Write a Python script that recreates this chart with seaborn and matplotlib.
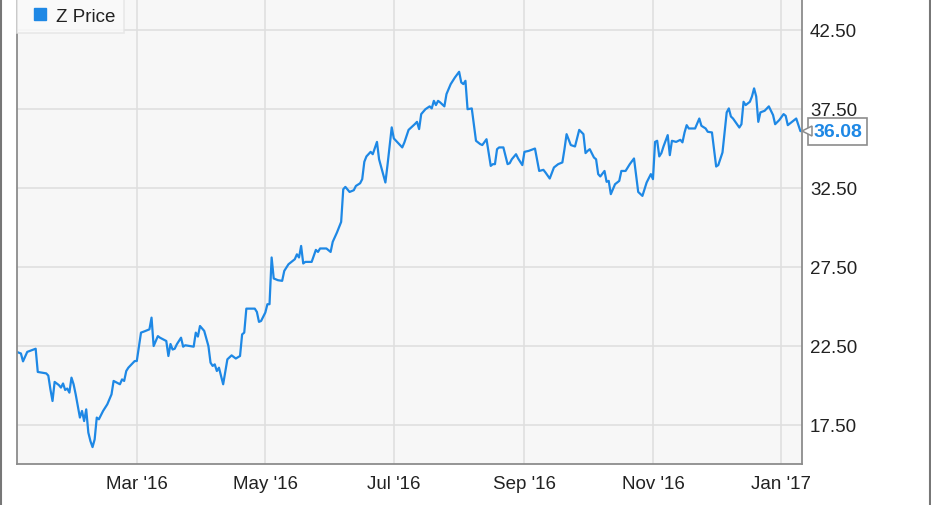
import matplotlib
matplotlib.use("Agg")
import matplotlib.pyplot as plt
import matplotlib.dates as mdates
from matplotlib.lines import Line2D
import seaborn as sns
import pandas as pd

# Z daily close (days counted from 2016-01-01)
day_offsets = [
    3, 5, 6, 8, 10, 12, 13, 17, 18, 19,
    20, 21, 23, 24, 25, 26, 27, 28, 29, 30,
    31, 33, 34, 35, 36, 37, 38, 39, 40, 41,
    42, 44, 46, 48, 49, 52, 53, 54, 55, 56,
    59, 60, 62, 64, 66, 67, 68, 70, 71, 74,
    75, 76, 77, 78, 79, 81, 82, 83, 87, 88,
    89, 90, 92, 94, 95, 96, 97, 98, 99, 100,
    101, 103, 105, 107, 109, 110, 111, 112, 116, 117,
    118, 119, 121, 122, 123, 124, 125, 127, 129, 130,
    132, 135, 136, 137, 138, 139, 140, 143, 145, 146,
    147, 150, 152, 153, 155, 157, 158, 159, 161, 163,
    164, 166, 167, 168, 169, 171, 172, 174, 175, 178,
    179, 181, 182, 186, 187, 189, 192, 193, 194, 195,
    197, 199, 200, 201, 202, 203, 204, 206, 207, 209,
    211, 213, 214, 215, 216, 217, 219, 221, 223, 224,
    226, 228, 229, 230, 231, 232, 234, 236, 237, 238,
    240, 241, 243, 244, 246, 249, 251, 253, 254, 256,
    258, 260, 262, 263, 264, 266, 268, 270, 272, 273,
    274, 275, 277, 278, 279, 280, 282, 283, 284, 285,
    287, 289, 290, 292, 294, 296, 298, 300, 302, 304,
    305, 306, 307, 308, 309, 310, 312, 313, 314, 316,
    318, 319, 320, 321, 322, 325, 327, 328, 330, 331,
    333, 334, 335, 336, 338, 340, 341, 342, 343, 346,
    347, 348, 349, 351, 352, 353, 354, 355, 356, 358,
    360, 362, 363, 365, 367, 368, 369, 371, 373, 375,
]
prices = [
    22.1, 22.0, 21.5, 22.1, 22.2, 22.3, 20.83, 20.74, 20.6, 19.73,
    18.99, 20.2, 20.0, 19.84, 20.1, 19.69, 19.78, 19.52, 20.47, 20.05,
    19.41, 17.94, 18.36, 17.72, 18.46, 16.99, 16.45, 16.07, 16.56, 17.94,
    17.83, 18.36, 18.78, 19.41, 20.26, 20.05, 20.36, 20.26, 20.89, 21.1,
    21.52, 21.52, 23.32, 23.42, 23.53, 24.27, 22.47, 23.1, 23.0, 22.79,
    21.84, 22.6, 22.25, 22.3, 22.58, 23.0, 22.43, 22.52, 22.43, 23.32,
    23.07, 23.74, 23.43, 22.47, 21.42, 21.21, 21.31, 20.89, 21.1, 20.57,
    20.05, 21.63, 21.88, 21.68, 21.84, 23.21, 23.32, 24.84, 24.84, 24.63,
    24.0, 24.06, 24.59, 25.12, 25.12, 28.08, 26.75, 26.64, 26.6, 27.23,
    27.65, 27.97, 28.28, 28.08, 28.81, 27.7, 27.8, 27.8, 28.56, 28.43,
    28.65, 28.65, 28.43, 29.07, 29.66, 30.33, 32.4, 32.55, 32.23, 32.34,
    32.61, 32.78, 33.04, 34.14, 34.48, 34.77, 34.62, 35.4, 34.3, 32.83,
    33.93, 36.32, 35.62, 35.05, 35.36, 36.16, 36.53, 36.67, 36.21, 37.16,
    37.47, 37.65, 37.52, 38.0, 37.73, 38.0, 37.9, 37.65, 38.43, 39.06,
    39.48, 39.84, 39.17, 39.06, 39.27, 37.47, 37.52, 35.47, 35.26, 35.2,
    35.57, 33.88, 33.99, 33.99, 34.94, 35.05, 35.05, 33.99, 34.05, 34.3,
    34.62, 34.35, 33.93, 34.77, 34.83, 34.98, 33.56, 33.63, 33.46, 33.08,
    33.78, 33.99, 34.1, 34.94, 35.89, 35.2, 35.11, 36.16, 35.89, 34.69,
    34.83, 34.94, 34.41, 34.3, 33.36, 33.21, 33.56, 32.87, 32.93, 32.09,
    32.72, 32.93, 33.56, 33.56, 33.99, 34.35, 32.23, 31.98, 32.83, 33.36,
    33.04, 35.4, 35.47, 34.48, 34.69, 35.11, 35.83, 34.56, 35.47, 35.4,
    35.53, 35.37, 36.0, 36.46, 36.25, 36.25, 36.88, 36.42, 36.25, 36.04,
    36.0, 34.94, 33.84, 33.93, 34.73, 37.27, 37.52, 37.01, 36.88, 36.31,
    36.52, 37.94, 37.73, 37.94, 38.28, 38.79, 38.28, 36.67, 37.27, 37.37,
    37.65, 37.1, 36.52, 36.79, 37.16, 37.05, 36.46, 36.67, 36.88, 36.08,
]

y_ticks = [17.5, 22.5, 27.5, 32.5, 37.5, 42.5]
x_ticks = ["2016-03-01", "2016-05-01", "2016-07-01", "2016-09-01", "2016-11-01", "2017-01-01"]
series_name = "Z Price"
last_label = "36.08"

line_color = "#1e88e5"

df = pd.DataFrame({
    "date": pd.Timestamp("2016-01-01") + pd.to_timedelta(day_offsets, unit="D"),
    "price": prices,
})

sns.set_style("whitegrid", {"axes.facecolor": "#f7f7f7", "grid.color": "#dedede",
                            "axes.edgecolor": "#8c8c8c"})
plt.rcParams["font.family"] = ["Liberation Sans", "DejaVu Sans"]

fig = plt.figure(figsize=(9.31, 5.06), dpi=100)
ax = fig.add_axes([16.7 / 931, 41 / 506, (801.7 - 16.7) / 931, 465 / 506])

sns.lineplot(data=df, x="date", y="price", ax=ax, color=line_color, linewidth=1.6)

ax.set_xlim(pd.Timestamp("2016-01-04"), pd.Timestamp("2016-01-04") + pd.Timedelta(days=372.6))
ax.set_ylim(15.0, 44.45)

ax.set_xticks(pd.to_datetime(x_ticks))
ax.xaxis.set_major_formatter(mdates.DateFormatter("%b '%y"))
ax.set_yticks(y_ticks)
ax.set_yticklabels([f"{v:.2f}" for v in y_ticks])
ax.yaxis.tick_right()
ax.tick_params(axis="both", length=0, labelsize=13.5, labelcolor="#222222")
ax.tick_params(axis="y", pad=6)
ax.tick_params(axis="x", pad=8)
ax.set_xlabel("")
ax.set_ylabel("")
ax.grid(True, color="#dedede", linewidth=1.1)

for side in ["left", "bottom", "right"]:
    ax.spines[side].set_visible(True)
    ax.spines[side].set_color("#8c8c8c")
    ax.spines[side].set_linewidth(1.3)
ax.spines["top"].set_visible(False)

# legend in the top-left corner
handle = Line2D([], [], marker="s", linestyle="", color=line_color, markersize=9)
leg = ax.legend([handle], [series_name], loc="upper left", borderaxespad=0,
                frameon=True, fancybox=False, fontsize=13.5, handletextpad=0.05,
                borderpad=0.45, handlelength=1.6)
leg.get_frame().set_facecolor("#fafafa")
leg.get_frame().set_edgecolor("#e4e4e4")
leg.get_frame().set_linewidth(1.2)
for t in leg.get_texts():
    t.set_color("#222222")

# last value callout on the right axis
trans = ax.get_yaxis_transform()
ax.text(1.0145, prices[-1], last_label, transform=trans, color=line_color,
        fontsize=14, fontweight="bold", va="center", ha="left", clip_on=False,
        bbox=dict(boxstyle="square,pad=0.25", fc="white", ec="#8c8c8c", lw=1.2), zorder=5)
ax.plot([1.0065], [prices[-1]], marker="<", markersize=7.5, color="white",
        markeredgecolor="#8c8c8c", markeredgewidth=1.1, transform=trans,
        clip_on=False, zorder=6)

# outer frame lines at the image edges
fig.add_artist(Line2D([0.0015, 0.0015], [0, 1], color="#777777", linewidth=1.5))
fig.add_artist(Line2D([0.9985, 0.9985], [0, 1], color="#777777", linewidth=1.5))

fig.savefig("out.png", dpi=100)
